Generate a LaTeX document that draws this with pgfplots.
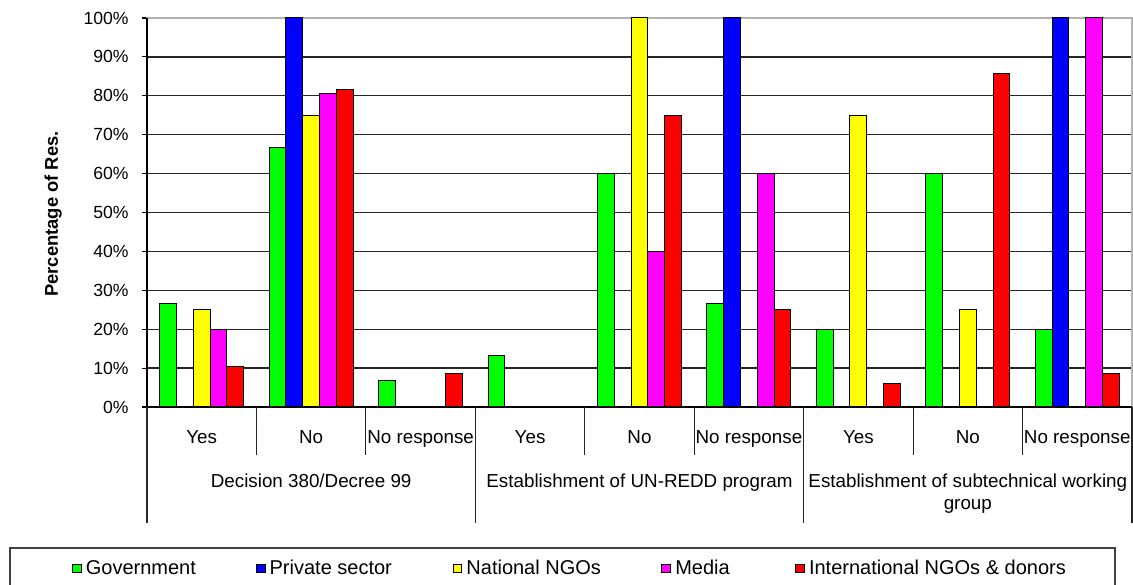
\documentclass[border=0pt]{standalone}
\usepackage{fontspec}
\setmainfont{Liberation Sans}
\usepackage{pgfplots}
\pgfplotsset{compat=1.18}

\definecolor{cgov}{RGB}{0,255,0}
\definecolor{cpriv}{RGB}{0,0,255}
\definecolor{cnat}{RGB}{255,255,0}
\definecolor{cmed}{RGB}{255,0,255}
\definecolor{cint}{RGB}{255,0,0}

\begin{document}
\begin{tikzpicture}
\path[use as bounding box] (0,0) rectangle (566.5pt,292pt);
\begin{axis}[
    at={(73.5pt,88.5pt)}, anchor=south west,
    scale only axis,
    width=492.5pt, height=194.5pt,
    ybar=0pt, bar width=0.1535,
    xmin=-0.5, xmax=8.5,
    ymin=0, ymax=100,
    xtick={0,...,8},
    xticklabels={Yes,No,No response,Yes,No,No response,Yes,No,No response},
    xticklabel style={anchor=base, yshift=-15.5pt, inner sep=0pt, font=\fontsize{9.4}{11}\selectfont},
    x tick style={draw=none},
    ytick={0,10,...,100},
    yticklabels={0\%,10\%,20\%,30\%,40\%,50\%,60\%,70\%,80\%,90\%,100\%},
    yticklabel style={anchor=east, inner sep=0pt, xshift=-6.5pt, font=\fontsize{8.8}{10}\selectfont},
    ytick style={black, line width=0.6pt},
    tick align=outside, ytick pos=left,
    major tick length=2.5pt,
    ymajorgrids,
    grid style={black!85, line width=0.65pt},
    axis line style={gray!60, line width=0.6pt},
    ylabel={Percentage of Res.},
    ylabel style={at={(axis description cs:-0.0954,0.496)}, anchor=center, font=\fontsize{9.2}{11}\selectfont\bfseries},
    legend columns=5,
    legend image code/.code={\draw[#1,draw=black,line width=0.5pt] (0pt,-2.2pt) rectangle (4.4pt,2.2pt);},
    legend style={at={(-0.0761,-0.4152)}, anchor=west, draw=none, fill=none,
        inner sep=0pt, outer sep=0pt, column sep=0pt,
        nodes={inner sep=0pt, font=\fontsize{10}{12}\selectfont},
        /tikz/every odd column/.style={column sep=2pt}},
    clip=false,
]
% Government
\addplot[fill=cgov, draw=black, line width=0.5pt] coordinates {
    (0,26.7) (1,66.7) (2,6.7) (3,13.3) (4,60) (5,26.7) (6,20) (7,60) (8,20)};
\addlegendentry{\makebox[85pt][l]{Government}}
% Private sector
\addplot[fill=cpriv, draw=black, line width=0.5pt] coordinates {
    (0,0) (1,100) (2,0) (3,0) (4,0) (5,100) (6,0) (7,0) (8,100)};
\addlegendentry{\makebox[91.5pt][l]{Private sector}}
% National NGOs
\addplot[fill=cnat, draw=black, line width=0.5pt] coordinates {
    (0,25) (1,75) (2,0) (3,0) (4,100) (5,0) (6,75) (7,25) (8,0)};
\addlegendentry{\makebox[97.5pt][l]{National NGOs}}
% Media
\addplot[fill=cmed, draw=black, line width=0.5pt] coordinates {
    (0,20) (1,80.5) (2,0) (3,0) (4,40) (5,60) (6,0) (7,0) (8,100)};
\addlegendentry{\makebox[60pt][l]{Media}}
% International NGOs & donors
\addplot[fill=cint, draw=black, line width=0.5pt] coordinates {
    (0,10.5) (1,81.5) (2,8.5) (3,0) (4,75) (5,25) (6,6) (7,85.7) (8,8.5)};
\addlegendentry{International NGOs \& donors}

% axis lines left and bottom
\draw[black, line width=0.7pt] (rel axis cs:0,1) -- (rel axis cs:0,0) -- (rel axis cs:1,0);

% category separators
\draw[black!85, line width=0.6pt] (axis cs:0.5,0) -- ++(0pt,-24pt);
\draw[black!85, line width=0.6pt] (axis cs:1.5,0) -- ++(0pt,-24pt);
\draw[black!85, line width=0.6pt] (axis cs:3.5,0) -- ++(0pt,-24pt);
\draw[black!85, line width=0.6pt] (axis cs:4.5,0) -- ++(0pt,-24pt);
\draw[black!85, line width=0.6pt] (axis cs:6.5,0) -- ++(0pt,-24pt);
\draw[black!85, line width=0.6pt] (axis cs:7.5,0) -- ++(0pt,-24pt);
% group separators
\draw[black!85, line width=0.6pt] (axis cs:-0.5,0) -- ++(0pt,-58pt);
\draw[black!85, line width=0.6pt] (axis cs:2.5,0) -- ++(0pt,-58pt);
\draw[black!85, line width=0.6pt] (axis cs:5.5,0) -- ++(0pt,-58pt);
\draw[black!85, line width=0.6pt] (axis cs:8.5,0) -- ++(0pt,-58pt);

% group labels
\node[anchor=base, inner sep=0pt, yshift=-40pt, font=\fontsize{9.4}{11}\selectfont] at (axis cs:1,0) {Decision 380/Decree 99};
\node[anchor=base, inner sep=0pt, yshift=-40pt, font=\fontsize{9.4}{11}\selectfont] at (axis cs:4,0) {Establishment of UN-REDD program};
\node[anchor=base, inner sep=0pt, yshift=-40pt, font=\fontsize{9.4}{11}\selectfont] at (axis cs:7,0) {Establishment of subtechnical working};
\node[anchor=base, inner sep=0pt, yshift=-51pt, font=\fontsize{9.4}{11}\selectfont] at (axis cs:7,0) {group};
\end{axis}

% legend frame
\draw[black!75, line width=0.8pt] (5pt,-2pt) rectangle (557.5pt,18pt);
\end{tikzpicture}
\end{document}
